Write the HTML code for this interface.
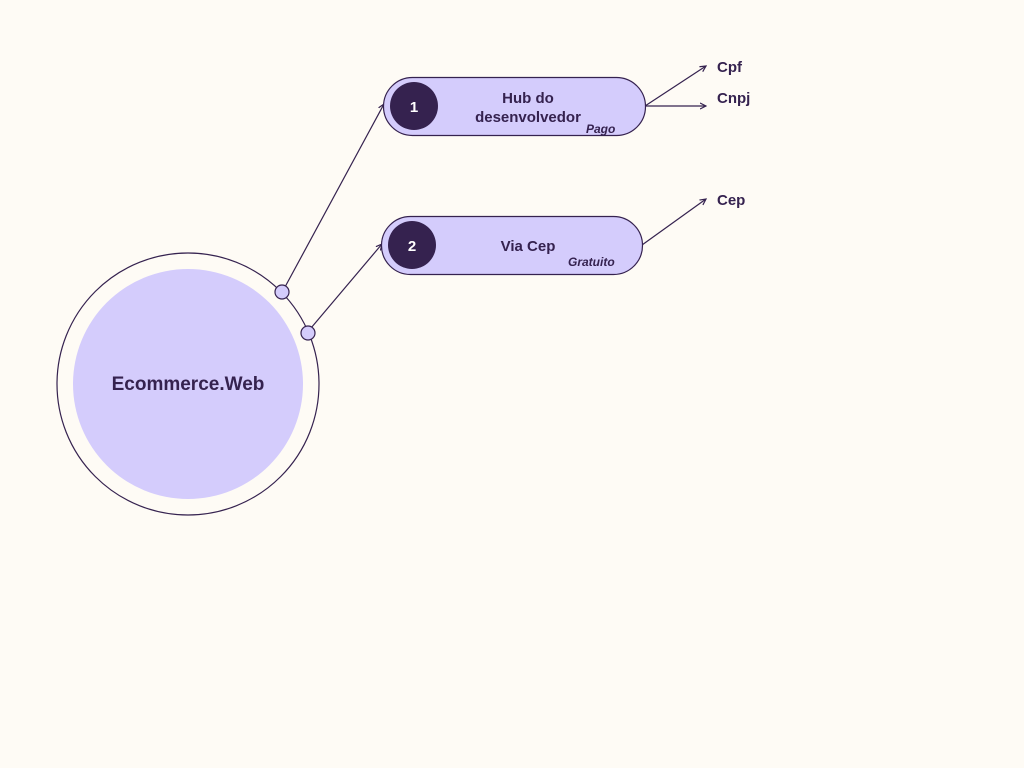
<!DOCTYPE html>
<html><head><style>
body{margin:0;background:#fefbf5;}
svg{display:block;font-family:"Liberation Sans",sans-serif;}
</style></head><body>
<svg width="1024" height="768" viewBox="0 0 1024 768">
<defs><marker id="a" markerWidth="6" markerHeight="6" refX="5" refY="3" orient="auto"><path d="M0,0.5 L5,3 L0,5.5" fill="none" stroke="#35224f" stroke-width="1"/></marker></defs>
<rect width="1024" height="768" fill="#fefbf5"/>
<g stroke="#35224f" stroke-width="1.2" fill="none">
<line x1="285" y1="287" x2="384" y2="104" marker-end="url(#a)"/>
<line x1="311" y1="328" x2="382" y2="244" marker-end="url(#a)"/>
<line x1="645" y1="106" x2="706" y2="66" marker-end="url(#a)"/>
<line x1="645" y1="106" x2="706" y2="106" marker-end="url(#a)"/>
<line x1="642" y1="245" x2="706" y2="199" marker-end="url(#a)"/>
</g>
<circle cx="188" cy="384" r="131" fill="#fefbf5" stroke="#35224f" stroke-width="1.2"/>
<circle cx="188" cy="384" r="115" fill="#d4ccfc"/>
<text x="188" y="390" text-anchor="middle" font-size="19" font-weight="bold" fill="#35224f">Ecommerce.Web</text>
<circle cx="282" cy="292" r="7" fill="#d4ccfc" stroke="#35224f" stroke-width="1.2"/>
<circle cx="308" cy="333" r="7" fill="#d4ccfc" stroke="#35224f" stroke-width="1.2"/>
<rect x="383.5" y="77.5" width="262" height="58" rx="29" fill="#d4ccfc" stroke="#35224f" stroke-width="1.2"/>
<circle cx="414" cy="106" r="24" fill="#35224f"/>
<text x="414" y="112" text-anchor="middle" font-size="15" font-weight="bold" fill="#fff">1</text>
<text x="528" y="103" text-anchor="middle" font-size="15" font-weight="bold" fill="#35224f">Hub do</text>
<text x="528" y="122" text-anchor="middle" font-size="15" font-weight="bold" fill="#35224f">desenvolvedor</text>
<text x="586" y="133" font-size="12" font-style="italic" font-weight="bold" fill="#35224f">Pago</text>
<rect x="381.5" y="216.5" width="261" height="58" rx="29" fill="#d4ccfc" stroke="#35224f" stroke-width="1.2"/>
<circle cx="412" cy="245" r="24" fill="#35224f"/>
<text x="412" y="251" text-anchor="middle" font-size="15" font-weight="bold" fill="#fff">2</text>
<text x="528" y="251" text-anchor="middle" font-size="15" font-weight="bold" fill="#35224f">Via Cep</text>
<text x="568" y="266" font-size="12" font-style="italic" font-weight="bold" fill="#35224f">Gratuito</text>
<text x="717" y="72" font-size="15" font-weight="bold" fill="#35224f">Cpf</text>
<text x="717" y="103" font-size="15" font-weight="bold" fill="#35224f">Cnpj</text>
<text x="717" y="205" font-size="15" font-weight="bold" fill="#35224f">Cep</text>
</svg>
</body></html>
